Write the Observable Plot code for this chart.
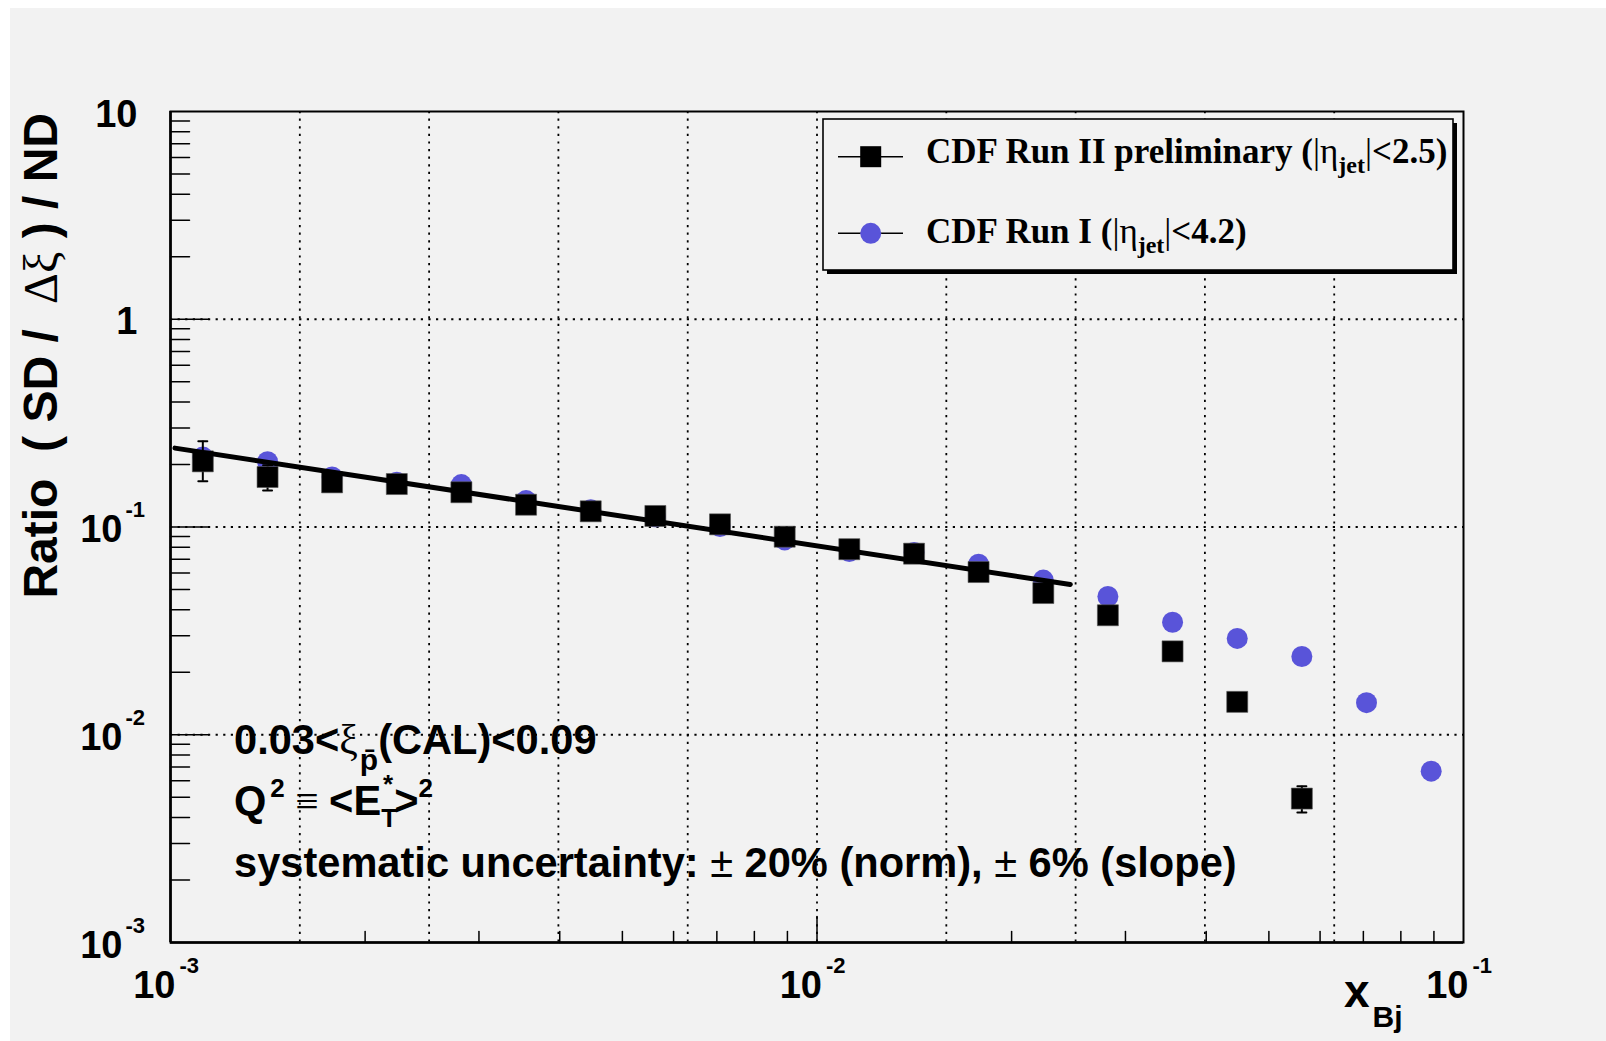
<!DOCTYPE html>
<html>
<head>
<meta charset="utf-8">
<script src="https://cdn.jsdelivr.net/npm/d3@7"></script>
<script src="https://cdn.jsdelivr.net/npm/@observablehq/plot@0.6"></script>
<style>
html, body { margin: 0; padding: 0; background: #ffffff; }
#chart svg { display: block; }
</style>
</head>
<body>
<div id="chart"></div>
<script>
// ---------------- data ----------------
// CDF Run II preliminary (|eta_jet|<2.5)
const xRun2 = [0.001122, 0.001413, 0.001778, 0.002239, 0.002818, 0.003548, 0.004467, 0.005623, 0.007079,
               0.008913, 0.01122, 0.01413, 0.01778, 0.02239, 0.02818, 0.03548, 0.04467, 0.05623];
const yRun2 = [0.207, 0.174, 0.164, 0.161, 0.147, 0.128, 0.119, 0.113, 0.103,
               0.0898, 0.0782, 0.0744, 0.0607, 0.0481, 0.0376, 0.0252, 0.0144, 0.00493];
const yRun2Lo = [0.166, 0.150, 0.156, 0.154, 0.141, 0.123, 0.114, 0.108, 0.098,
                 0.0860, 0.0748, 0.0710, 0.0578, 0.0456, 0.0355, 0.0236, 0.0134, 0.00422];
const yRun2Hi = [0.259, 0.198, 0.172, 0.168, 0.153, 0.133, 0.124, 0.118, 0.108,
                 0.0936, 0.0816, 0.0778, 0.0636, 0.0506, 0.0397, 0.0268, 0.0154, 0.00565];

// CDF Run I (|eta_jet|<4.2)
const xRun1 = [0.001122, 0.001413, 0.001778, 0.002239, 0.002818, 0.003548, 0.004467, 0.005623, 0.007079, 0.008913,
               0.01122, 0.01413, 0.01778, 0.02239, 0.02818, 0.03548, 0.04467, 0.05623, 0.07079, 0.08913];
const yRun1 = [0.217, 0.206, 0.174, 0.164, 0.160, 0.134, 0.121, 0.112, 0.1005, 0.0867,
               0.0762, 0.0753, 0.0662, 0.0555, 0.0463, 0.0348, 0.0291, 0.0238, 0.01427, 0.00668];

// fitted power law (drawn line end points)
const xFit = [0.001016, 0.02465];
const yFit = [0.2397, 0.0529];

// axis ticks and grid
const xDecades = [0.001, 0.01, 0.1];
const xDecadeExp = ["-3", "-2", "-1"];
const yDecadesExp = [0.001, 0.01, 0.1];
const yDecadeExp = ["-3", "-2", "-1"];
const yPlainTicks = [1, 10];
const yPlainLabels = ["1", "10"];
const xMinorTicks = [0.002, 0.003, 0.004, 0.005, 0.006, 0.007, 0.008, 0.009,
                     0.02, 0.03, 0.04, 0.05, 0.06, 0.07, 0.08, 0.09];
const xMajorTicks = [0.01];
const yMinorTicks = [0.002, 0.003, 0.004, 0.005, 0.006, 0.007, 0.008, 0.009,
                     0.02, 0.03, 0.04, 0.05, 0.06, 0.07, 0.08, 0.09,
                     0.2, 0.3, 0.4, 0.5, 0.6, 0.7, 0.8, 0.9,
                     2, 3, 4, 5, 6, 7, 8, 9];
const yMajorTicks = [0.01, 0.1, 1];
const xGrid = [0.001585, 0.002512, 0.003981, 0.00631, 0.01, 0.01585, 0.02512, 0.03981, 0.0631];
const yGrid = [0.01, 0.1, 1];

// ---------------- build tables ----------------
const run2 = xRun2.map((x, i) => ({x, y: yRun2[i], lo: yRun2Lo[i], hi: yRun2Hi[i]}));
const run1 = xRun1.map((x, i) => ({x, y: yRun1[i]}));
const fit = xFit.map((x, i) => ({x, y: yFit[i]}));
const xLab = xDecades.map((v, i) => ({v, e: xDecadeExp[i]}));
const yLab = yDecadesExp.map((v, i) => ({v, e: yDecadeExp[i]}));
const yPlain = yPlainTicks.map((v, i) => ({v, t: yPlainLabels[i]}));

const BLUE = "#5954d9";
const SANS = "'Liberation Sans', Arial, Helvetica, sans-serif";
const SERIF = "'Liberation Serif', 'Times New Roman', serif";
const lineShape = {draw(context, l) { context.moveTo(0, 0); context.lineTo(0, -l); }};
const dotted = {stroke: "#000", strokeWidth: 1.8, strokeDasharray: "2.2,5.4"};

const W = 1606, H = 1041;
const chart = Plot.plot({
  width: W, height: H,
  marginLeft: 170, marginRight: 143, marginTop: 111, marginBottom: 99,
  style: {background: "transparent", fontFamily: SANS, overflow: "visible"},
  x: {type: "log", domain: [1e-3, 1e-1], axis: null},
  y: {type: "log", domain: [1e-3, 10], axis: null},
  marks: [
    Plot.ruleX(xGrid, {x: d => d, ...dotted}),
    Plot.ruleY(yGrid, {y: d => d, ...dotted}),
    // ticks (inside the frame)
    Plot.vector(xMinorTicks, {x: d => d, frameAnchor: "bottom", length: 11, rotate: 0, anchor: "start", shape: lineShape, stroke: "#000", strokeWidth: 1.5}),
    Plot.vector(xMajorTicks, {x: d => d, frameAnchor: "bottom", length: 26, rotate: 0, anchor: "start", shape: lineShape, stroke: "#000", strokeWidth: 1.5}),
    Plot.vector(yMinorTicks, {y: d => d, frameAnchor: "left", length: 19, rotate: 90, anchor: "start", shape: lineShape, stroke: "#000", strokeWidth: 1.5}),
    Plot.vector(yMajorTicks, {y: d => d, frameAnchor: "left", length: 38, rotate: 90, anchor: "start", shape: lineShape, stroke: "#000", strokeWidth: 1.5}),
    // frame
    Plot.frame({stroke: "#000", strokeWidth: 2}),
    Plot.ruleX([1e-3], {x: d => d, stroke: "#000", strokeWidth: 2.6}),
    Plot.ruleY([1e-3], {y: d => d, stroke: "#000", strokeWidth: 2.6}),
    // tick labels
    Plot.text(xLab, {x: "v", text: () => "10", frameAnchor: "bottom", textAnchor: "end", lineAnchor: "bottom", dx: 5, dy: 55, fontSize: 38, fontWeight: "bold", fill: "#000"}),
    Plot.text(xLab, {x: "v", text: "e", frameAnchor: "bottom", textAnchor: "start", lineAnchor: "bottom", dx: 9, dy: 30, fontSize: 22, fontWeight: "bold", fill: "#000"}),
    Plot.text(yLab, {y: "v", text: () => "10", frameAnchor: "left", textAnchor: "end", lineAnchor: "middle", dx: -48, dy: 3, fontSize: 38, fontWeight: "bold", fill: "#000"}),
    Plot.text(yLab, {y: "v", text: "e", frameAnchor: "left", textAnchor: "start", lineAnchor: "bottom", dx: -45, dy: -10, fontSize: 22, fontWeight: "bold", fill: "#000"}),
    Plot.text(yPlain, {y: "v", text: "t", frameAnchor: "left", textAnchor: "end", lineAnchor: "middle", dx: -33, dy: 3, fontSize: 38, fontWeight: "bold", fill: "#000"}),
    // data
    Plot.dot(run1, {x: "x", y: "y", r: 10.5, fill: BLUE, stroke: "none"}),
    Plot.ruleX(run2, {x: "x", y1: "lo", y2: "hi", stroke: "#000", strokeWidth: 2}),
    Plot.vector(run2, {x: "x", y: "lo", length: 9, rotate: 90, anchor: "middle", shape: lineShape, stroke: "#000", strokeWidth: 2}),
    Plot.vector(run2, {x: "x", y: "hi", length: 9, rotate: 90, anchor: "middle", shape: lineShape, stroke: "#000", strokeWidth: 2}),
    Plot.dot(run2, {x: "x", y: "y", symbol: "square", r: 11.85, fill: "#000", stroke: "#555", strokeWidth: 0.6}),
    Plot.line(fit, {x: "x", y: "y", stroke: "#000", strokeWidth: 5})
  ]
});

document.getElementById("chart").appendChild(chart);
const svg = d3.select(chart);

// canvas background (gray pad with white border at top/left)
svg.insert("rect", ":first-child")
  .attr("x", 10).attr("y", 8).attr("width", W - 10).attr("height", H - 8)
  .attr("fill", "#f2f2f2");

// ---------------- axis titles ----------------
const yt = svg.append("text")
  .attr("transform", "translate(57,113) rotate(-90)")
  .attr("text-anchor", "end")
  .attr("font-family", SANS).attr("font-size", 48).attr("font-weight", "bold")
  .style("white-space", "pre");
yt.append("tspan").text("Ratio  ( SD / ");
yt.append("tspan").attr("font-family", SERIF).attr("font-weight", "normal").text(" Δξ");
yt.append("tspan").text(" ) / ND");

const xt = svg.append("text").attr("text-anchor", "start").attr("font-family", SANS).attr("font-weight", "bold").attr("x", 1344).attr("y", 1007);
xt.append("tspan").attr("font-size", 46).text("x");
xt.append("tspan").attr("font-size", 30).attr("dy", 20).attr("dx", 3).text("Bj");

// ---------------- annotations ----------------
function ann(y) {
  return svg.append("text").attr("x", 234).attr("y", y).attr("text-anchor", "start")
    .attr("font-family", SANS).attr("font-size", 41.6).attr("font-weight", "bold")
    .style("white-space", "pre");
}
const a1 = ann(754);
a1.append("tspan").text("0.03<");
a1.append("tspan").attr("font-family", SERIF).attr("font-weight", "normal").text("ξ");
a1.append("tspan").attr("font-size", 30).attr("dy", 16).attr("dx", 2).text("p\u0304");
a1.append("tspan").attr("dy", -16).text("(CAL)<0.09");

const a2 = ann(815);
a2.append("tspan").text("Q");
a2.append("tspan").attr("font-size", 26).attr("dy", -18).attr("dx", 4).text("2");
a2.append("tspan").attr("dy", 18).attr("font-family", SERIF).attr("font-weight", "normal").text(" ≡ ");
a2.append("tspan").text("<E");
a2.append("tspan").attr("font-size", 26).attr("dy", 12).text("T");
a2.append("tspan").attr("font-size", 26).attr("dy", -34).attr("dx", -14).text("*");
a2.append("tspan").attr("dy", 22).attr("dx", 1).text(">");
a2.append("tspan").attr("font-size", 26).attr("dy", -18).text("2");

const a3 = ann(877);
a3.append("tspan").text("systematic uncertainty:");
a3.append("tspan").attr("font-weight", "normal").text(" ± ");
a3.append("tspan").text("20% (norm),");
a3.append("tspan").attr("font-weight", "normal").text(" ± ");
a3.append("tspan").text("6% (slope)");

// ---------------- legend ----------------
const lg = svg.append("g");
lg.append("rect").attr("x", 827).attr("y", 123).attr("width", 630).attr("height", 151).attr("fill", "#000");
lg.append("rect").attr("x", 823).attr("y", 119).attr("width", 630).attr("height", 151)
  .attr("fill", "#f2f2f2").attr("stroke", "#000").attr("stroke-width", 1.6);
const rows = [
  {cy: 156.7, base: 163, pre: "CDF Run II preliminary (", post: "<2.5)", square: true},
  {cy: 233.3, base: 243, pre: "CDF Run I (", post: "<4.2)", square: false}
];
rows.forEach(r => {
  lg.append("line").attr("x1", 838).attr("x2", 903).attr("y1", r.cy).attr("y2", r.cy)
    .attr("stroke", "#000").attr("stroke-width", 1.6);
  if (r.square) {
    lg.append("rect").attr("x", 860.2).attr("y", r.cy - 10.5).attr("width", 21).attr("height", 21).attr("fill", "#000");
  } else {
    lg.append("circle").attr("cx", 870.7).attr("cy", r.cy).attr("r", 10.5).attr("fill", BLUE);
  }
  const t = lg.append("text").attr("x", 926).attr("y", r.base).attr("text-anchor", "start")
    .attr("font-family", SERIF).attr("font-size", 35).attr("font-weight", "bold")
    .style("white-space", "pre");
  t.append("tspan").text(r.pre);
  t.append("tspan").attr("font-weight", "normal").text("|η");
  t.append("tspan").attr("font-size", 24).attr("dy", 10).text("jet");
  t.append("tspan").attr("dy", -10).attr("font-weight", "normal").text("|");
  t.append("tspan").text(r.post);
});
</script>
</body>
</html>
